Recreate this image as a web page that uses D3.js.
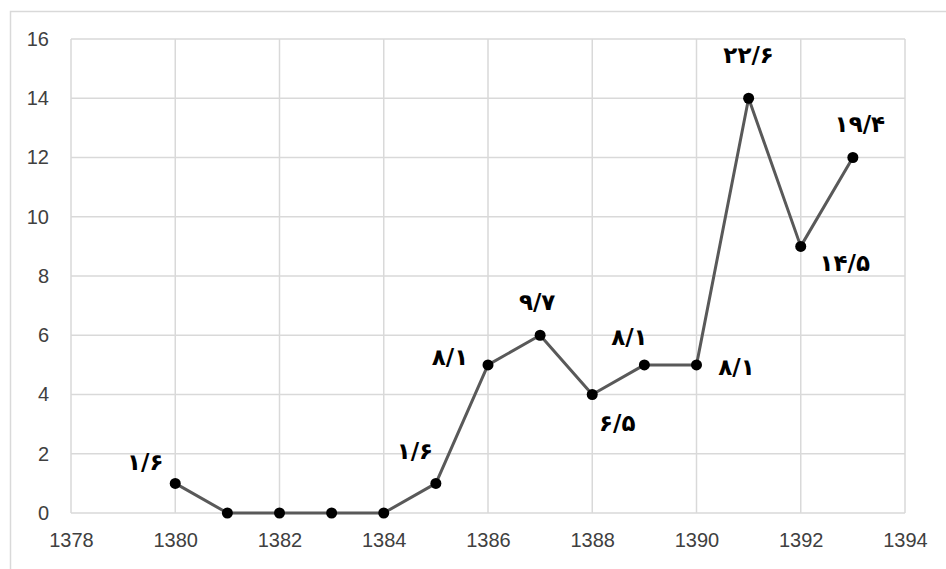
<!DOCTYPE html>
<html>
<head>
<meta charset="utf-8">
<script src="https://cdn.jsdelivr.net/npm/d3@7"></script>
<style>
  html, body { margin: 0; padding: 0; background: #fff; }
  svg { display: block; }
</style>
</head>
<body>
<svg id="chart" width="946" height="569"></svg>
<script>
const years = [1380, 1381, 1382, 1383, 1384, 1385, 1386, 1387, 1388, 1389, 1390, 1391, 1392, 1393];
const values = [1, 0, 0, 0, 0, 1, 5, 6, 4, 5, 5, 14, 9, 12];
const labels = ["۱/۶", "", "", "", "", "۱/۶", "۸/۱", "۹/۷", "۶/۵", "۸/۱", "۸/۱", "۲۲/۶", "۱۴/۵", "۱۹/۴"];
const xTicks = [1378, 1380, 1382, 1384, 1386, 1388, 1390, 1392, 1394];
const yTicks = [0, 2, 4, 6, 8, 10, 12, 14, 16];

const svg = d3.select("#chart");
const margin = { left: 71, right: 41, top: 39, bottom: 56 };
const W = 946, H = 569;

const x = d3.scaleLinear().domain([1378, 1394]).range([margin.left, W - margin.right]);
const y = d3.scaleLinear().domain([0, 16]).range([H - margin.bottom, margin.top]);

// outer chart border (cropped at right and bottom)
svg.append("rect")
  .attr("x", 10.5).attr("y", 11.5)
  .attr("width", 960).attr("height", 600)
  .attr("fill", "#fff").attr("stroke", "#d9d9d9").attr("stroke-width", 1.5);

const grid = svg.append("g");
grid.selectAll("line.h").data(yTicks).join("line")
  .attr("x1", x(1378)).attr("x2", x(1394))
  .attr("y1", d => y(d)).attr("y2", d => y(d))
  .attr("stroke", "#d9d9d9").attr("stroke-width", 1.5);
grid.selectAll("line.v").data(xTicks).join("line")
  .attr("y1", y(0)).attr("y2", y(16))
  .attr("x1", d => x(d)).attr("x2", d => x(d))
  .attr("stroke", "#d9d9d9").attr("stroke-width", 1.5);

// axes (labels only)
const xAxis = svg.append("g")
  .attr("transform", `translate(0,${y(0)})`)
  .call(d3.axisBottom(x).tickValues(xTicks).tickSize(0).tickPadding(20).tickFormat(d3.format("d")));
const yAxis = svg.append("g")
  .attr("transform", `translate(${margin.left},0)`)
  .call(d3.axisLeft(y).tickValues(yTicks).tickSize(0).tickPadding(22));
[xAxis, yAxis].forEach(a => {
  a.select(".domain").remove();
  a.selectAll("text")
    .attr("font-family", "'Liberation Sans', Arial, sans-serif")
    .attr("font-size", 20)
    .attr("fill", "#404040");
});

const pts = years.map((yr, i) => ({ yr, v: values[i], lab: labels[i] }));

svg.append("path")
  .datum(pts)
  .attr("fill", "none")
  .attr("stroke", "#595959")
  .attr("stroke-width", 3)
  .attr("stroke-linejoin", "round")
  .attr("d", d3.line().x(d => x(d.yr)).y(d => y(d.v)));

svg.selectAll("circle.pt").data(pts).join("circle")
  .attr("cx", d => x(d.yr)).attr("cy", d => y(d.v))
  .attr("r", 5.5).attr("fill", "#000");

// label offsets relative to each point
const customOff = { 1380: [-30, -21], 1385: [-21, -32], 1386: [-38, -8], 1387: [-3, -33], 1388: [25, 28], 1389: [-15, -28], 1390: [40, 2], 1391: [0, -43], 1392: [44, 17], 1393: [7, -34] };

svg.selectAll("text.lab").data(pts.filter(d => d.lab)).join("text")
  .attr("class", "lab")
  .attr("x", d => x(d.yr) + customOff[d.yr][0])
  .attr("y", d => y(d.v) + customOff[d.yr][1])
  .attr("text-anchor", "middle")
  .attr("dominant-baseline", "central")
  .attr("direction", "ltr")
  .attr("font-family", "'DejaVu Sans', 'Noto Sans', sans-serif")
  .attr("font-weight", "bold")
  .attr("font-size", 23)
  .attr("fill", "#000")
  .text(d => d.lab);
</script>
</body>
</html>
